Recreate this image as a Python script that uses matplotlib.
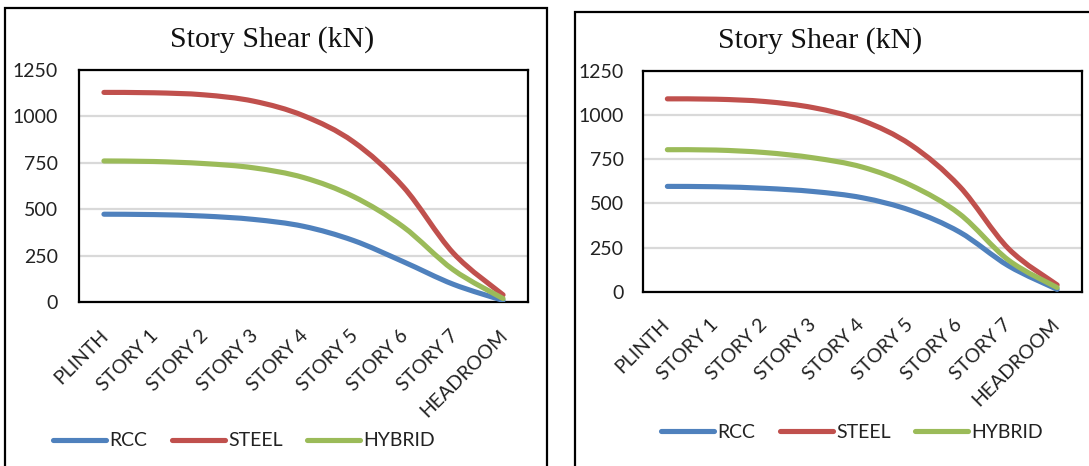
import matplotlib
matplotlib.use("Agg")
import matplotlib.pyplot as plt
from matplotlib.path import Path
from matplotlib.patches import PathPatch, Rectangle
from matplotlib.lines import Line2D
from matplotlib.transforms import ScaledTranslation

# categories (floors)
floors = ["PLINTH", "STORY 1", "STORY 2", "STORY 3", "STORY 4",
          "STORY 5", "STORY 6", "STORY 7", "HEADROOM"]
yticks = [0, 250, 500, 750, 1000, 1250]

# left chart, story shear in kN
rcc_a = [473, 471, 463, 445, 408, 332, 218, 97, 10]
steel_a = [1127, 1125, 1114, 1080, 1002, 862, 620, 265, 40]
hybrid_a = [759, 756, 745, 722, 670, 568, 405, 175, 20]

# right chart, story shear in kN
rcc_b = [596, 594, 585, 567, 532, 460, 338, 148, 15]
steel_b = [1090, 1088, 1075, 1040, 968, 830, 595, 245, 40]
hybrid_b = [803, 801, 787, 757, 705, 602, 440, 180, 25]

series_names = ["RCC", "STEEL", "HYBRID"]
colors = ["#4F81BD", "#C0504D", "#9BBB59"]

W, H = 1089, 466
fig = plt.figure(figsize=(W / 100, H / 100), dpi=100)
fig.patch.set_facecolor("white")

LW = 3.7


def smooth_path(xs, ys):
    # excel style smoothed line: bezier segments between data points
    pts = list(zip(xs, ys))
    verts = [pts[0]]
    codes = [Path.MOVETO]
    n = len(pts)
    for i in range(n - 1):
        p0 = pts[i - 1] if i > 0 else pts[i]
        p1 = pts[i]
        p2 = pts[i + 1]
        p3 = pts[i + 2] if i + 2 < n else pts[i + 1]
        c1 = (p1[0] + (p2[0] - p0[0]) / 6, p1[1] + (p2[1] - p0[1]) / 6)
        c2 = (p2[0] - (p3[0] - p1[0]) / 6, p2[1] - (p3[1] - p1[1]) / 6)
        verts += [c1, c2, p2]
        codes += [Path.CURVE4] * 3
    return Path(verts, codes)


def draw_chart(box, ax_rect, data, title_xy, legend_xy, ypad, xpad, xshift):
    # panel border
    fig.patches.append(Rectangle((box[0] / W, 1 - box[3] / H),
                                 (box[2] - box[0]) / W, (box[3] - box[1]) / H,
                                 transform=fig.transFigure, fill=False,
                                 edgecolor="black", lw=1.6, zorder=0))
    fig.text(title_xy[0] / W, 1 - title_xy[1] / H, "Story Shear (kN)",
             ha="center", va="baseline", fontsize=21.5,
             family="Liberation Serif", color="#111111")

    ax = fig.add_axes(ax_rect)
    xs = list(range(len(floors)))
    for vals, c in zip(data, colors):
        ax.add_patch(PathPatch(smooth_path(xs, vals), facecolor="none",
                               edgecolor=c, lw=LW, capstyle="round",
                               joinstyle="round", zorder=3))
    ax.set_xlim(-0.5, len(floors) - 0.5)
    ax.set_ylim(0, 1250)
    ax.set_yticks(yticks)
    ax.set_yticklabels([str(v) for v in yticks], family="Lato", fontsize=14,
                       color="#222222")
    ax.set_xticks(xs)
    ax.set_xticklabels(floors, rotation=45, ha="right", va="top",
                       rotation_mode="anchor", family="Lato", fontsize=14,
                       color="#222222")
    ax.tick_params(axis="y", length=0, pad=ypad)
    ax.tick_params(axis="x", length=0, pad=xpad)
    for lab in ax.get_xticklabels():
        lab.set_transform(lab.get_transform() +
                          ScaledTranslation(xshift, 0, fig.dpi_scale_trans))
    ax.grid(axis="y", color="#D9D9D9", lw=1.6)
    ax.set_axisbelow(True)
    for sp in ax.spines.values():
        sp.set_color("black")
        sp.set_linewidth(1.6)

    handles = [Line2D([], [], color=c, lw=LW, solid_capstyle="round")
               for c in colors]
    fig.legend(handles, series_names, loc="center left",
               bbox_to_anchor=(legend_xy[0] / W, 1 - legend_xy[1] / H),
               bbox_transform=fig.transFigure, ncol=3, frameon=False,
               prop={"family": "Lato", "size": 14}, handlelength=2.75,
               handletextpad=0.15, columnspacing=1.25, borderpad=0,
               borderaxespad=0, labelcolor="#222222")
    return ax


draw_chart((5, 8, 547, 480),
           [79 / W, 1 - 302.3 / H, 449 / W, (302.3 - 69.5) / H],
           [rcc_a, steel_a, hybrid_a], (272, 47), (53, 441), 15, 17.5, -0.04)

draw_chart((575, 12, 1100, 480),
           [643 / W, 1 - 292 / H, 438.5 / W, (292 - 70.5) / H],
           [rcc_b, steel_b, hybrid_b], (820, 48), (661, 432), 14, 17, -0.065)

fig.savefig("out.png", dpi=100)
